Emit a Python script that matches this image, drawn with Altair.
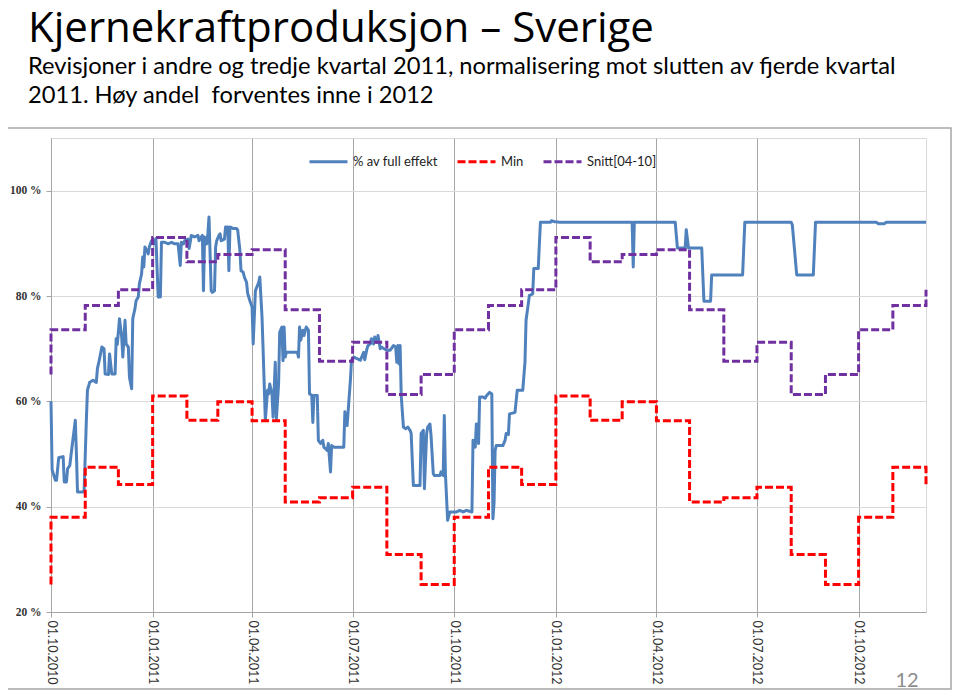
import altair as alt
import pandas as pd

# ---------------- data ----------------
serie_navn = ["% av full effekt", "Min", "Snitt[04-10]"]
farger = ["#4F81BD", "#FF0000", "#7030A0"]

effekt_dato = [
    "2010-10-01", "2010-10-02", "2010-10-05", "2010-10-06", "2010-10-08", "2010-10-12", "2010-10-13",
    "2010-10-15", "2010-10-16", "2010-10-18", "2010-10-20", "2010-10-23", "2010-10-24", "2010-10-25",
    "2010-10-30", "2010-10-31", "2010-11-02", "2010-11-03", "2010-11-05", "2010-11-08", "2010-11-11",
    "2010-11-12", "2010-11-14", "2010-11-16", "2010-11-18", "2010-11-19", "2010-11-22", "2010-11-23",
    "2010-11-25", "2010-11-28", "2010-11-29", "2010-11-30", "2010-12-02", "2010-12-04", "2010-12-05",
    "2010-12-07", "2010-12-08", "2010-12-10", "2010-12-11", "2010-12-13", "2010-12-14", "2010-12-16",
    "2010-12-17", "2010-12-19", "2010-12-20", "2010-12-22", "2010-12-23", "2010-12-24", "2010-12-25",
    "2010-12-26", "2010-12-28", "2010-12-29", "2010-12-31",
    "2011-01-02", "2011-01-04", "2011-01-06", "2011-01-08", "2011-01-09", "2011-01-12", "2011-01-15",
    "2011-01-18", "2011-01-21", "2011-01-24", "2011-01-26", "2011-01-27", "2011-01-29", "2011-01-30",
    "2011-02-02", "2011-02-03", "2011-02-05", "2011-02-08", "2011-02-11", "2011-02-12", "2011-02-14",
    "2011-02-15", "2011-02-16", "2011-02-17", "2011-02-19", "2011-02-20", "2011-02-21", "2011-02-23",
    "2011-02-24", "2011-02-26", "2011-02-27", "2011-02-28", "2011-03-02", "2011-03-03", "2011-03-04",
    "2011-03-07", "2011-03-08", "2011-03-10", "2011-03-11", "2011-03-12", "2011-03-15", "2011-03-18",
    "2011-03-19", "2011-03-21", "2011-03-22", "2011-03-24", "2011-03-25", "2011-03-27", "2011-03-28",
    "2011-03-30",
    "2011-04-01", "2011-04-02", "2011-04-04", "2011-04-07", "2011-04-08", "2011-04-10", "2011-04-11",
    "2011-04-13", "2011-04-15", "2011-04-16", "2011-04-17", "2011-04-19", "2011-04-20", "2011-04-22",
    "2011-04-23", "2011-04-25", "2011-04-26", "2011-04-28", "2011-04-29", "2011-04-30", "2011-05-01",
    "2011-05-02", "2011-05-12", "2011-05-13", "2011-05-14", "2011-05-15", "2011-05-17", "2011-05-18",
    "2011-05-20", "2011-05-22", "2011-05-23", "2011-05-25", "2011-05-26", "2011-05-27", "2011-05-30",
    "2011-05-31", "2011-06-02", "2011-06-04", "2011-06-05", "2011-06-08", "2011-06-09", "2011-06-11",
    "2011-06-12", "2011-06-14", "2011-06-23", "2011-06-24", "2011-06-26", "2011-06-29", "2011-06-30",
    "2011-07-02", "2011-07-05", "2011-07-08", "2011-07-11", "2011-07-12", "2011-07-14", "2011-07-15",
    "2011-07-17", "2011-07-18", "2011-07-20", "2011-07-21", "2011-07-23", "2011-07-24", "2011-07-26",
    "2011-07-27", "2011-08-01", "2011-08-04", "2011-08-07", "2011-08-09", "2011-08-10", "2011-08-11",
    "2011-08-12", "2011-08-13", "2011-08-14", "2011-08-16", "2011-08-18", "2011-08-20", "2011-08-22",
    "2011-08-23", "2011-08-25", "2011-08-31", "2011-09-01", "2011-09-03", "2011-09-04", "2011-09-06",
    "2011-09-07", "2011-09-09", "2011-09-10", "2011-09-12", "2011-09-13", "2011-09-18", "2011-09-19",
    "2011-09-21", "2011-09-22", "2011-09-23", "2011-09-25", "2011-09-27",
    "2011-10-03", "2011-10-06", "2011-10-09", "2011-10-12", "2011-10-17", "2011-10-18", "2011-10-20",
    "2011-10-21", "2011-10-23", "2011-10-24", "2011-10-27", "2011-10-29", "2011-10-30", "2011-11-02",
    "2011-11-04", "2011-11-05", "2011-11-06", "2011-11-07", "2011-11-08", "2011-11-14", "2011-11-16",
    "2011-11-17", "2011-11-19", "2011-11-20", "2011-11-25", "2011-11-27", "2011-12-02", "2011-12-04",
    "2011-12-05", "2011-12-07", "2011-12-08", "2011-12-11", "2011-12-12", "2011-12-16", "2011-12-18",
    "2011-12-27", "2011-12-28", "2011-12-31",
    "2012-01-05", "2012-03-10", "2012-03-11", "2012-03-12", "2012-04-18", "2012-04-20", "2012-04-27",
    "2012-04-28", "2012-04-30", "2012-05-12", "2012-05-14", "2012-05-20", "2012-05-21", "2012-06-18",
    "2012-06-20", "2012-08-01", "2012-08-02", "2012-08-06", "2012-08-21", "2012-08-23", "2012-10-17",
    "2012-10-19", "2012-10-24", "2012-10-26", "2012-12-01",
]
effekt_pct = [
    60.0, 47.0, 45.0, 45.0, 49.3, 49.5, 44.7,
    44.7, 47.2, 47.8, 51.3, 56.4, 50.1, 42.8,
    42.8, 43.1, 56.4, 62.1, 63.6, 64.0, 63.6,
    66.2, 68.1, 70.3, 70.0, 65.2, 65.1, 69.0,
    65.2, 65.2, 71.9, 70.8, 75.7, 72.2, 68.4,
    75.4, 70.9, 70.3, 64.6, 62.4, 75.7, 77.6,
    79.1, 79.8, 82.3, 84.2, 87.4, 85.5, 89.3,
    88.9, 88.0, 89.3, 90.5,
    89.9, 90.9, 79.8, 79.8, 90.2, 90.2, 89.9,
    90.2, 89.9, 89.9, 85.8, 90.2, 89.9, 90.5,
    90.8, 89.0, 91.5, 91.2, 91.5, 90.5, 91.2,
    91.5, 81.0, 91.2, 89.9, 91.8, 95.0, 81.0,
    80.7, 81.0, 89.3, 90.5, 91.5, 91.8, 90.5,
    90.8, 93.1, 93.1, 84.8, 93.1, 92.8, 92.8,
    92.5, 88.6, 84.8, 84.5, 83.6, 82.6, 80.5,
    79.1,
    77.9, 70.9, 81.0, 82.6, 83.6, 76.0, 69.7,
    56.4, 62.1, 61.4, 63.3, 61.4, 57.0, 67.4,
    56.7, 63.3, 73.1, 74.1, 67.7, 74.1, 68.4,
    69.3, 69.3, 68.4, 74.1, 71.6, 73.5, 72.5,
    74.1, 73.5, 61.4, 61.2, 56.0, 61.1, 61.1,
    52.6, 52.0, 52.6, 51.3, 50.7, 52.0, 46.6,
    51.6, 51.3, 51.3, 58.0, 55.4, 64.0, 67.8,
    68.4, 68.1, 67.8, 69.3, 67.9, 70.0, 70.6,
    70.9, 71.9, 70.9, 72.2, 71.2, 72.5, 70.0,
    70.3, 69.7, 69.7, 70.6, 70.3, 67.4, 70.6,
    67.1, 70.6, 61.1, 55.1, 54.8, 55.1, 54.5,
    53.9, 44.0, 44.0, 53.9, 54.5, 43.4, 53.9,
    55.1, 55.7, 53.5, 46.3, 45.9, 45.9, 46.6,
    45.9, 57.3, 46.3, 37.4, 39.0,
    39.0, 39.3, 39.0, 39.3, 39.0, 52.6, 51.3,
    55.7, 52.0, 60.8, 60.8, 60.6, 61.0, 61.7,
    61.4, 37.7, 40.6, 50.7, 51.6, 51.6, 52.6,
    53.9, 53.7, 57.6, 57.9, 62.1, 62.1, 67.4,
    75.4, 78.5, 80.1, 80.4, 85.2, 85.2, 94.0,
    94.0, 94.3, 94.1,
    94.0, 94.0, 85.5, 94.0, 94.0, 89.1, 89.1,
    92.6, 89.1, 89.1, 79.0, 79.0, 84.0, 84.0,
    94.0, 94.0, 93.5, 84.0, 84.0, 94.0, 94.0,
    93.7, 93.7, 94.0, 94.0,
]

# monthly step series (first point: September value at the left edge)
maaned_dato = [
    "2010-10-01", "2010-10-01", "2010-11-01", "2010-12-01",
    "2011-01-01", "2011-02-01", "2011-03-01", "2011-04-01", "2011-05-01", "2011-06-01",
    "2011-07-01", "2011-08-01", "2011-09-01", "2011-10-01", "2011-11-01", "2011-12-01",
    "2012-01-01", "2012-02-01", "2012-03-01", "2012-04-01", "2012-05-01", "2012-06-01",
    "2012-07-01", "2012-08-01", "2012-09-01", "2012-10-01", "2012-11-01", "2012-12-01",
]
min_pct = [
    25.2, 38.0, 47.5, 44.2,
    61.0, 56.4, 59.9, 56.3, 40.9, 41.7,
    43.7, 30.9, 25.2, 38.0, 47.5, 44.2,
    61.0, 56.4, 59.9, 56.3, 40.9, 41.7,
    43.7, 30.9, 25.2, 38.0, 47.5, 44.2,
]
snitt_pct = [
    65.1, 73.6, 78.2, 81.2,
    91.1, 86.5, 87.9, 88.8, 77.4, 67.6,
    71.2, 61.3, 65.1, 73.6, 78.2, 81.2,
    91.1, 86.5, 87.9, 88.8, 77.4, 67.6,
    71.2, 61.3, 65.1, 73.6, 78.2, 81.2,
]

kvartal_dato = ["2010-10-01", "2011-01-01", "2011-04-01", "2011-07-01", "2011-10-01",
                "2012-01-01", "2012-04-01", "2012-07-01", "2012-10-01"]
x_domene = ["2010-10-01", "2012-12-01"]
y_ticks = [20, 40, 60, 80, 100]
y_domene = [20, 110]

tittel = "Kjernekraftproduksjon – Sverige"
undertittel = [
    "Revisjoner i andre og tredje kvartal 2011, normalisering mot slutten av fjerde kvartal",
    "2011. Høy andel\u00a0 forventes inne i 2012",
]
sidenummer = "12"

# ---------------- tables ----------------
df_eff = pd.DataFrame({"dato": effekt_dato, "verdi": effekt_pct, "serie": serie_navn[0]})
df_eff["i"] = range(len(df_eff))
df_min = pd.DataFrame({"dato": maaned_dato, "verdi": min_pct, "serie": serie_navn[1]})
df_min["i"] = range(len(df_min))
df_snitt = pd.DataFrame({"dato": maaned_dato, "verdi": snitt_pct, "serie": serie_navn[2]})
df_snitt["i"] = range(len(df_snitt))
df_step = pd.concat([df_min, df_snitt], ignore_index=True)


def dt(s):
    y, m, d = (int(v) for v in s.split("-"))
    return alt.DateTime(year=y, month=m, date=d, utc=True)


x_enc = alt.X(
    "dato:T",
    scale=alt.Scale(type="utc", domain=[dt(s) for s in x_domene]),
    axis=alt.Axis(
        values=[dt(s) for s in kvartal_dato],
        format="%d.%m.%Y",
        labelAngle=90,
        labelFont="Lato",
        labelFontSize=12.5,
        labelColor="#333333",
        labelPadding=3,
        grid=True,
        gridColor="#A6A6A6",
        gridWidth=1,
        domainColor="#A6A6A6",
        tickColor="#A6A6A6",
        tickSize=5,
        title=None,
    ),
)
y_enc = alt.Y(
    "verdi:Q",
    scale=alt.Scale(domain=y_domene, nice=False, zero=False),
    axis=alt.Axis(
        values=y_ticks,
        labelExpr="datum.value + ' %'",
        labelFont="Liberation Serif",
        labelFontWeight="bold",
        labelFontSize=11.5,
        labelColor="#333333",
        labelPadding=5,
        grid=True,
        gridColor="#D9D9D9",
        gridWidth=1,
        domainColor="#A6A6A6",
        tickColor="#A6A6A6",
        tickSize=5,
        title=None,
    ),
)

legende = alt.Legend(
    orient="none",
    legendX=257,
    legendY=3,
    direction="horizontal",
    title=None,
    symbolType="stroke",
    symbolSize=1444,
    symbolStrokeWidth=3,
    labelFont="Lato",
    labelFontSize=13,
    labelColor="#222222",
    labelOffset=4,
    columnPadding=13,
    padding=0,
)
farge_enc = alt.Color("serie:N", scale=alt.Scale(domain=serie_navn, range=farger), legend=legende)
strek_enc = alt.StrokeDash(
    "serie:N",
    scale=alt.Scale(domain=serie_navn, range=[[1, 0], [8, 3], [8, 3]]),
    legend=legende,
)

ramme = alt.Chart(alt.Data(values=[{"r": 1}])).mark_rect(
    fill="transparent", stroke="#A6A6A6", strokeWidth=1.5, clip=False
).encode(x=alt.value(-50), x2=alt.value(900), y=alt.value(-10), y2=alt.value(551))

linje = alt.Chart(df_eff).mark_line(strokeWidth=3, strokeJoin="round").encode(
    x=x_enc, y=y_enc, color=farge_enc, strokeDash=strek_enc, order=alt.Order("i:Q")
)

trapp = alt.Chart(df_step).mark_line(strokeWidth=3, interpolate="step-after").encode(
    x=x_enc, y=y_enc, color=farge_enc, strokeDash=strek_enc, order=alt.Order("i:Q")
)

side = alt.Chart(alt.Data(values=[{"t": sidenummer}])).mark_text(
    font="Lato", fontSize=20, color="#8C8C8C", align="center", baseline="bottom", clip=False
).encode(x=alt.value(856), y=alt.value(553), text="t:N")

chart = alt.layer(ramme, linje, trapp, side).properties(
    width=875,
    height=474,
    padding={"left": 43, "top": 130, "right": 26, "bottom": 79},
    autosize=alt.AutoSizeParams(type="none"),
    title=alt.Title(
        text=tittel,
        subtitle=undertittel,
        anchor="start",
        frame="group",
        dx=-23,
        offset=19,
        font="Open Sans",
        fontSize=42,
        fontWeight="normal",
        color="#000000",
        subtitleFont="Lato",
        subtitleFontSize=23.7,
        subtitleColor="#000000",
        subtitleLineHeight=29,
        subtitlePadding=4,
    ),
).configure_view(stroke="#D9D9D9", strokeWidth=1)

chart.save("out.html", embed_options={"renderer": "svg", "actions": False})
